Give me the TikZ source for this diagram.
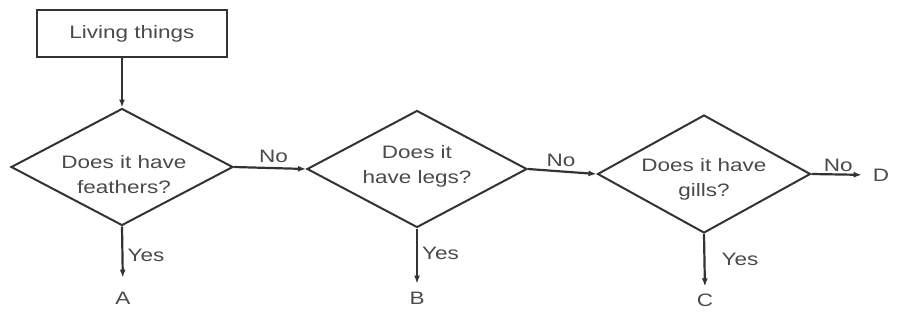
\documentclass[tikz,border=0pt]{standalone}
\usepackage{fontspec}
\setmainfont{Liberation Sans}[FakeStretch=1.25]
\usetikzlibrary{shapes.geometric,arrows.meta,calc}
\definecolor{ink}{HTML}{333333}
\definecolor{txt}{HTML}{4A4A4A}
\begin{document}
\begin{tikzpicture}[x=1pt,y=-1pt,
  every node/.style={font=\fontsize{18}{25}\selectfont, text=txt},
  startbox/.style={draw=ink, line width=1.6pt, minimum width=190pt, minimum height=47pt, inner sep=0pt},
  decision/.style={draw=ink, line width=2pt, shape=diamond, inner sep=0pt, aspect=1.9},
  qtext/.style={align=center, inner sep=0pt},
  lbl/.style={inner sep=2pt},
  conn/.style={draw=ink, line width=2.2pt, -{Latex[length=8pt,width=6pt]}}
]
\useasboundingbox (0,0) rectangle (907,324);
\node[startbox] (box) at (132,33.5) {Living things};
\node[decision, minimum width=222pt, minimum height=117pt] (d1) at (122,167) {};
\node[decision, minimum width=220pt, minimum height=117pt] (d2) at (417,169) {};
\node[decision, minimum width=213pt, minimum height=118pt] (d3) at (704,174) {};
\node[qtext] (t1) at ($(d1.center)+(2,8)$) {Does it have\\feathers?};
\node[qtext] (t2) at ($(d2.center)+(0,-3)$) {Does it\\have legs?};
\node[qtext] (t3) at ($(d3.center)+(0,5)$) {Does it have\\gills?};
\node[lbl] (A) at (123,298) {A};
\node[lbl] (B) at (417,298) {B};
\node[lbl] (C) at (705,300) {C};
\node[lbl] (D) at (881,175) {D};
\draw[conn] (d1.north |- box.south) -- (d1.north);
\draw[conn] (d1.east) -- node[lbl, above, pos=0.55, yshift=2pt] (n1) {No} (d2.west);
\draw[conn] (d2.east) -- node[lbl, above, pos=0.48, yshift=2pt] (n2) {No} (d3.west);
\draw[conn, shorten >=9pt] (d3.east) -- node[lbl, above, pos=0.45, yshift=0pt] (n3) {No} (D.west);
\draw[conn, shorten >=12pt] (d1.south) -- node[lbl, right, pos=0.45, xshift=2pt] (y1) {Yes} (A.north);
\draw[conn, shorten >=6pt] (d2.south) -- node[lbl, right, pos=0.4, xshift=2pt] (y2) {Yes} (B.north);
\draw[conn, shorten >=5pt] (d3.south) -- node[lbl, right, pos=0.45, xshift=14pt] (y3) {Yes} (C.north);
\end{tikzpicture}
\end{document}
